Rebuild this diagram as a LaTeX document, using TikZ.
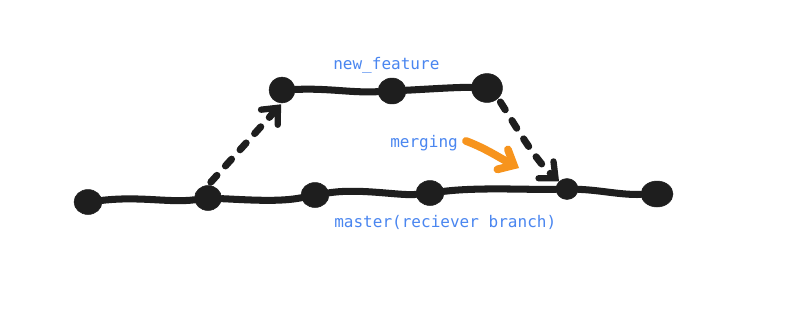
\documentclass[tikz,border=0pt]{standalone}
\usepackage{fontspec}
\setmonofont{DejaVu Sans Mono}
\usetikzlibrary{shapes.geometric,arrows.meta}
\definecolor{ink}{HTML}{1E1E1E}
\definecolor{lblue}{HTML}{4A86F0}
\definecolor{lorange}{HTML}{F7941D}
\newlength\pxu
\setlength\pxu{0.709pt}
\begin{document}
\begin{tikzpicture}[x=0.025cm,y=-0.025cm,
  commit/.style={ellipse,fill=ink,draw=ink,minimum width=28\pxu,minimum height=25\pxu,inner sep=0pt},
  branchline/.style={draw=ink,line width=5pt,line cap=round},
  dashline/.style={draw=ink,line width=5pt,line cap=round,dash pattern=on 6.5pt off 9pt,
    -{Straight Barb[length=9pt,width=16pt,line cap=round,line width=4.5pt]}},
  lbl/.style={text=lblue,font=\ttfamily\fontsize{11.4}{13}\selectfont,inner sep=0pt,anchor=base west}
]
\useasboundingbox (0,0) rectangle (800,311);
\fill[white] (0,0) rectangle (800,311);
% master nodes
\node[commit] (m1) at (88,202) {};
\node[commit,minimum width=27\pxu] (m2) at (208,198) {};
\node[commit] (m3) at (315,195) {};
\node[commit] (m4) at (430,193) {};
\node[commit,minimum width=22\pxu,minimum height=21\pxu] (m5) at (567,189) {};
\node[commit,minimum width=32\pxu,minimum height=26\pxu] (m6) at (657,194) {};
% feature nodes
\node[commit,minimum width=26\pxu,minimum height=26\pxu] (f1) at (282,90) {};
\node[commit,minimum width=28\pxu,minimum height=26\pxu] (f2) at (392,91) {};
\node[commit,minimum width=31\pxu,minimum height=29\pxu] (f3) at (487,88) {};
% branch lines
\draw[branchline] (m1) .. controls (140,196) and (170,203) .. (m2);
\draw[branchline] (m2) .. controls (250,200) and (280,202) .. (m3);
\draw[branchline] (m3) .. controls (360,188) and (400,196) .. (m4);
\draw[branchline] (m4) .. controls (480,187) and (530,190) .. (m5);
\draw[branchline] (m5) .. controls (600,190) and (620,195) .. (m6);
\draw[branchline] (f1) .. controls (330,88) and (350,93) .. (f2);
\draw[branchline] (f2) .. controls (430,89) and (460,87) .. (f3);
% dashed connectors
\draw[dashline,shorten <=3pt,shorten >=1pt] (m2.north) -- (f1.south);
\draw[dashline,shorten <=3pt] (f3.south east) .. controls (515,125) and (535,160) .. (m5.north west);
% merging arrow
\draw[lorange,line width=5.5pt,line cap=round,
  -{Straight Barb[length=9pt,width=16pt,line cap=round,line width=5.5pt]}]
  (466,141) .. controls (485,148) and (500,158) .. (519,168);
% labels
\node[lbl] (tnf) at (333,69) {new\_feature};
\node[lbl] (tmg) at (390,147) {merging};
\node[lbl] (tms) at (334,227) {master(reciever branch)};
\end{tikzpicture}
\end{document}
